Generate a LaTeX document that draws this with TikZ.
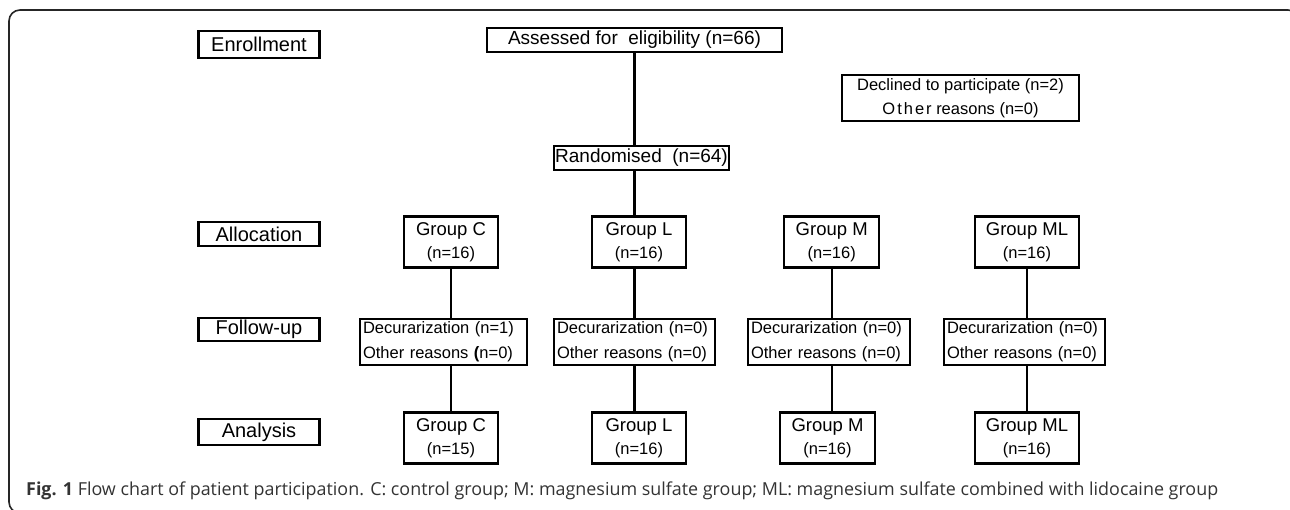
\documentclass[tikz,border=0pt]{standalone}
\usepackage{fontspec}
\setmainfont{Liberation Sans}
\newfontfamily\capfont{Open Sans}
\begin{document}
\begin{tikzpicture}[x=1pt,y=-1pt,
  bx/.style={draw, line width=2.2pt, inner sep=0pt, text=black, align=center},
  lbl/.style={bx, minimum width=121pt, font=\fontsize{20}{22}\selectfont},
  grp/.style={bx, minimum height=51pt, font=\fontsize{18.5}{23}\selectfont},
  fup/.style={bx, minimum height=46.5pt, minimum width=#1, text width=#1-6pt, align=left, inner xsep=2pt, font=\fontsize{16.5}{25}\selectfont},
  ln/.style={line width=2.4pt}]
\useasboundingbox (0,0) rectangle (1290,510);
\draw[line width=1.6pt, rounded corners=11pt, black!85] (9,10) rectangle (1299,513);
% left labels
\node[lbl, minimum height=27pt] (enr) at (259,44.5) {Enrollment};
\node[lbl, minimum height=24pt] (alo) at (259,234) {Allocation};
\node[lbl, minimum height=23pt] (fol) at (259,329.5) {Follow-up};
\node[lbl, minimum height=26pt] (ana) at (259,432) {Analysis};
% top
\node[bx, minimum width=295pt, minimum height=24pt, font=\fontsize{19}{22}\selectfont] (ass) at (634.5,40) {Assessed for\ \ eligibility (n=66)};
\node[bx, minimum width=175pt, minimum height=24pt, font=\fontsize{19}{22}\selectfont] (ran) at (641.5,158) {Randomised\ \ (n=64)};
\node[bx, minimum width=237pt, minimum height=46pt, font=\fontsize{16.5}{24}\selectfont] (dec) at (960.5,98) {Declined to participate (n=2)\\{\addfontfeature{LetterSpace=12}Other} reasons (n=0)};
% allocation groups
\node[grp, minimum width=94pt] (gc) at (451,242) {Group C\\{\fontsize{16.5}{20}\selectfont(n=16)}};
\node[grp, minimum width=94pt] (gl) at (639,242) {Group L\\{\fontsize{16.5}{20}\selectfont(n=16)}};
\node[grp, minimum width=95pt] (gm) at (831.7,242) {Group M\\{\fontsize{16.5}{20}\selectfont(n=16)}};
\node[grp, minimum width=104pt] (gml) at (1027,242) {Group ML\\{\fontsize{16.5}{20}\selectfont(n=16)}};
% follow-up
\node[fup=167pt] (fc) at (443.5,342) {Decurarization (n=1)\\Other reasons {\bfseries(}n=0)};
\node[fup=161pt] (fl) at (634.5,342) {Decurarization (n=0)\\Other reasons (n=0)};
\node[fup=162pt] (fm) at (829,342) {Decurarization (n=0)\\Other reasons (n=0)};
\node[fup=161pt] (fml) at (1024.5,342) {Decurarization (n=0)\\Other reasons (n=0)};
% analysis
\node[grp, minimum width=94pt] (ac) at (451,438) {Group C\\{\fontsize{16.5}{20}\selectfont(n=15)}};
\node[grp, minimum width=94pt] (al) at (639,438) {Group L\\{\fontsize{16.5}{20}\selectfont(n=16)}};
\node[grp, minimum width=95pt] (am) at (827.5,438) {Group M\\{\fontsize{16.5}{20}\selectfont(n=16)}};
\node[grp, minimum width=104pt] (aml) at (1027,438) {Group ML\\{\fontsize{16.5}{20}\selectfont(n=16)}};
% connectors
\draw[ln] (ass.south) -- (ass.south |- ran.north);
\draw[ln] (ass.south |- ran.south) -- (ass.south |- gl.north);
\draw[ln] (gc.south) -- (gc.south |- fc.north);
\draw[ln] (fc.south -| gc.south) -- (ac.north);
\draw[ln] (fl.north |- gl.south) -- (fl.north);
\draw[ln] (fl.south) -- (fl.south |- al.north);
\draw[ln] (gm.south) -- (gm.south |- fm.north);
\draw[ln] (gm.south |- fm.south) -- (gm.south |- am.north);
\draw[ln] (gml.south) -- (gml.south |- fml.north);
\draw[ln] (gml.south |- fml.south) -- (aml.north);
% caption
\node[anchor=west, inner sep=0pt, text=black!80, font=\capfont\fontsize{17.9}{20}\selectfont] (cap) at (26,490.5) {\textbf{Fig. 1} Flow chart of patient participation. C: control group; M: magnesium sulfate group; ML: magnesium sulfate combined with lidocaine group};
\end{tikzpicture}
\end{document}
